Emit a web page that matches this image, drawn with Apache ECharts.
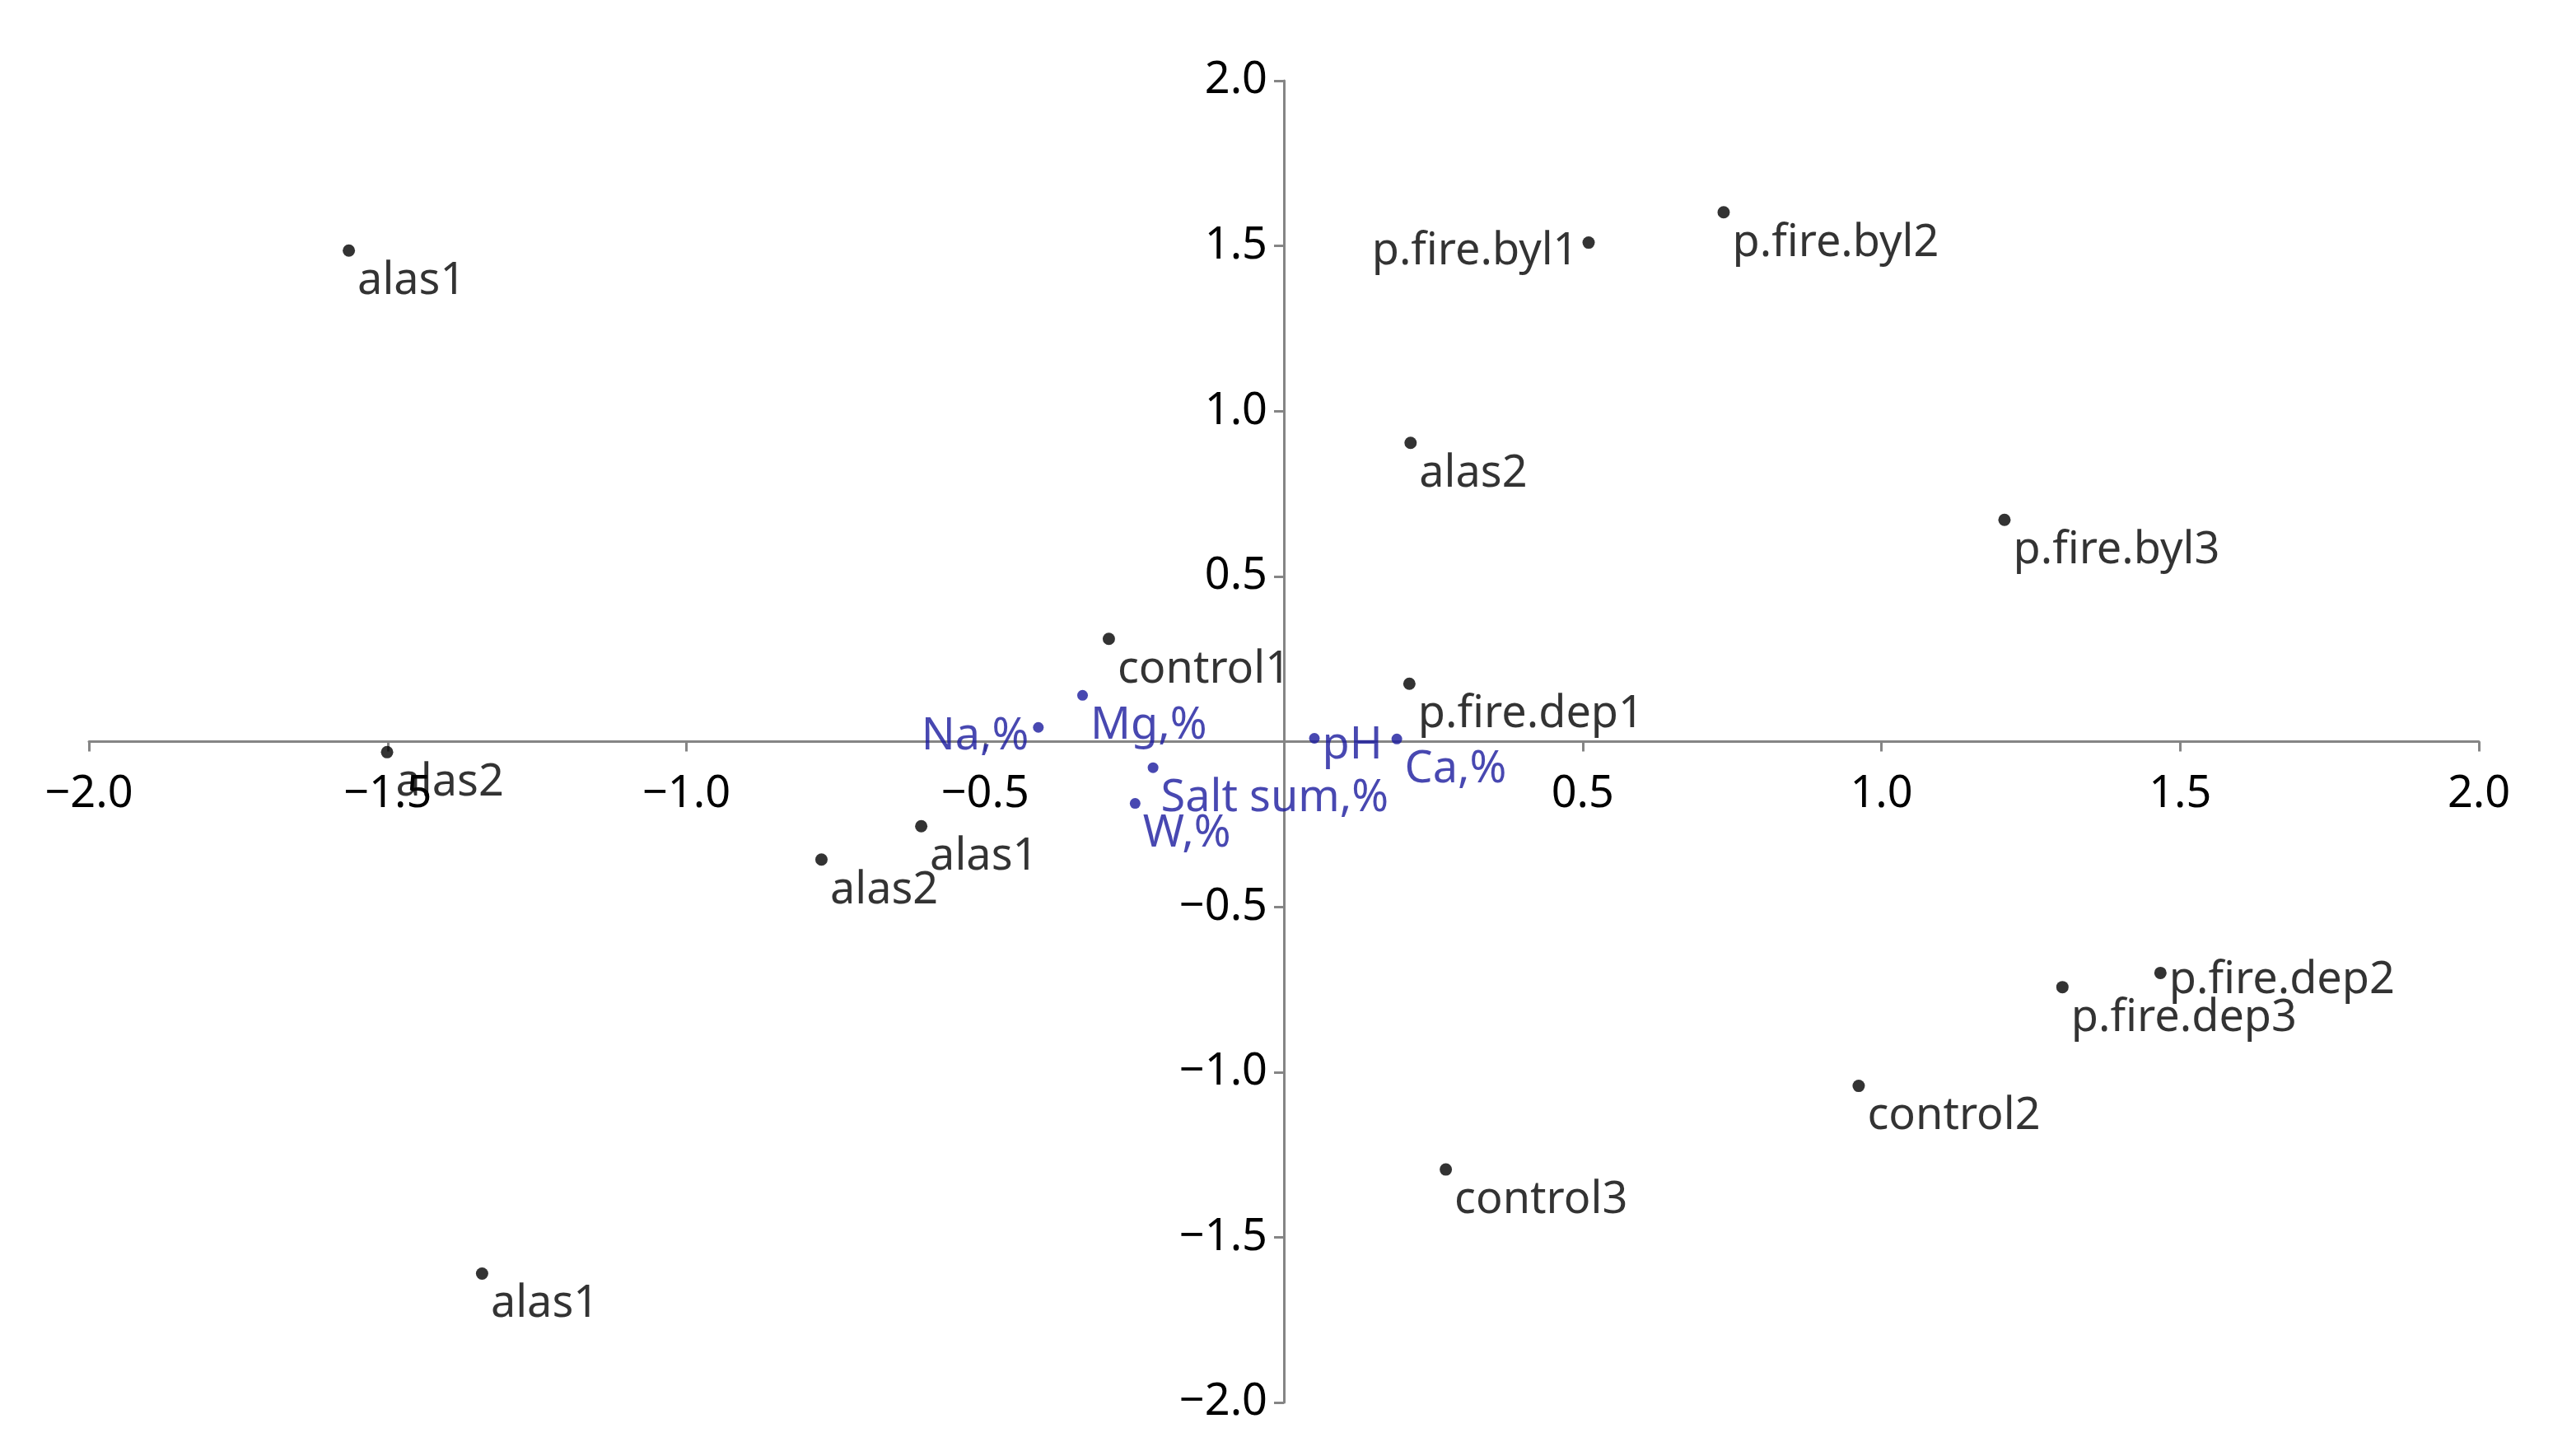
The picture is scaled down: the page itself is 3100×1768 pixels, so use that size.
<!DOCTYPE html>
<html><head><meta charset="utf-8">
<script src="https://cdn.jsdelivr.net/npm/echarts@6/dist/echarts.min.js"></script>
<style>html,body{margin:0;padding:0;background:#fff}#c{width:3100px;height:1768px}</style>
</head><body><div id="c"></div>
<script>
// Samples (black points)
const sampleNames = ['alas1','alas2','alas2','alas1','alas1','control1','p.fire.byl1','p.fire.byl2','alas2','p.fire.byl3','p.fire.dep1','p.fire.dep2','p.fire.dep3','control2','control3'];
const sampleX = [-1.565, -1.501, -0.774, -0.607, -1.342, -0.293, 0.510, 0.736, 0.212, 1.206, 0.210, 1.467, 1.303, 0.962, 0.271];
const sampleY = [1.486, -0.032, -0.357, -0.256, -1.610, 0.311, 1.510, 1.602, 0.904, 0.671, 0.175, -0.700, -0.743, -1.042, -1.295];

// Variables (blue points)
const varNames = ['Na,%','Mg,%','pH','Ca,%','Salt sum,%','W,%'];
const varX = [-0.411, -0.337, 0.051, 0.189, -0.219, -0.249];
const varY = [0.043, 0.140, 0.010, 0.008, -0.079, -0.187];

// Axis ticks
const axisMin = -2, axisMax = 2, axisStep = 0.5;

const FONT = '"Noto Sans", sans-serif';
const BLACK = '#000';
const BLUE = '#1a1a9e';
const AXIS = '#858585';

const GRID = { left: 108, right: 90, top: 98, bottom: 65 };
const W = 3100, H = 1768;
const plotW = W - GRID.left - GRID.right, plotH = H - GRID.top - GRID.bottom;
// distance from the grid edge to the zero line
const zeroFromLeft = plotW * (0 - axisMin) / (axisMax - axisMin);
const zeroFromBottom = plotH * (0 - axisMin) / (axisMax - axisMin);

const leftLabeled = new Set(['p.fire.byl1', 'Na,%']);
const rightLabeled = new Set(['pH', 'p.fire.dep2']);

function labelCfg(name, color, defPos) {
  const base = { show: true, formatter: name, color: color, fontSize: 54, fontFamily: FONT };
  if (leftLabeled.has(name)) return Object.assign(base, { position: 'left', distance: 5, offset: [0, 11] });
  if (rightLabeled.has(name)) return Object.assign(base, { position: 'right', distance: 3, offset: [0, 9] });
  return Object.assign(base, { position: defPos, align: 'left', verticalAlign: 'top' });
}

const sampleData = sampleNames.map((n, i) => ({ value: [sampleX[i], sampleY[i]], label: labelCfg(n, BLACK, [18, 18]) }));
const varData = varNames.map((n, i) => ({ value: [varX[i], varY[i]], label: labelCfg(n, BLUE, [16, 17]) }));

const fmt = v => Math.abs(v) < 1e-9 ? '' : v.toFixed(1).replace('-', '\u2212');

const axisCommon = {
  type: 'value', min: axisMin, max: axisMax, interval: axisStep,
  axisLine: { show: true, onZero: false, lineStyle: { color: AXIS, width: 3 } },
  axisTick: { show: true, length: 12, lineStyle: { color: AXIS, width: 3 } },
  splitLine: { show: false },
};

const chart = echarts.init(document.getElementById('c'), null, { renderer: 'canvas' });
chart.setOption({
  animation: false,
  backgroundColor: '#fff',
  grid: Object.assign({ containLabel: false, outerBoundsMode: 'none' }, GRID),
  xAxis: Object.assign({}, axisCommon, {
    position: 'bottom', offset: -zeroFromBottom,
    axisLabel: { formatter: fmt, fontSize: 54, fontFamily: FONT, color: BLACK, margin: 37, showMinLabel: true, showMaxLabel: true }
  }),
  yAxis: Object.assign({}, axisCommon, {
    position: 'left', offset: -zeroFromLeft,
    axisLabel: { formatter: fmt, fontSize: 54, fontFamily: FONT, color: BLACK, margin: 20, showMinLabel: true, showMaxLabel: true }
  }),
  series: [
    { type: 'scatter', symbol: 'circle', symbolSize: 15, itemStyle: { color: '#000' }, data: sampleData, z: 3 },
    { type: 'scatter', symbol: 'circle', symbolSize: 13, itemStyle: { color: BLUE }, data: varData, z: 4 }
  ]
});
</script>
</body></html>
